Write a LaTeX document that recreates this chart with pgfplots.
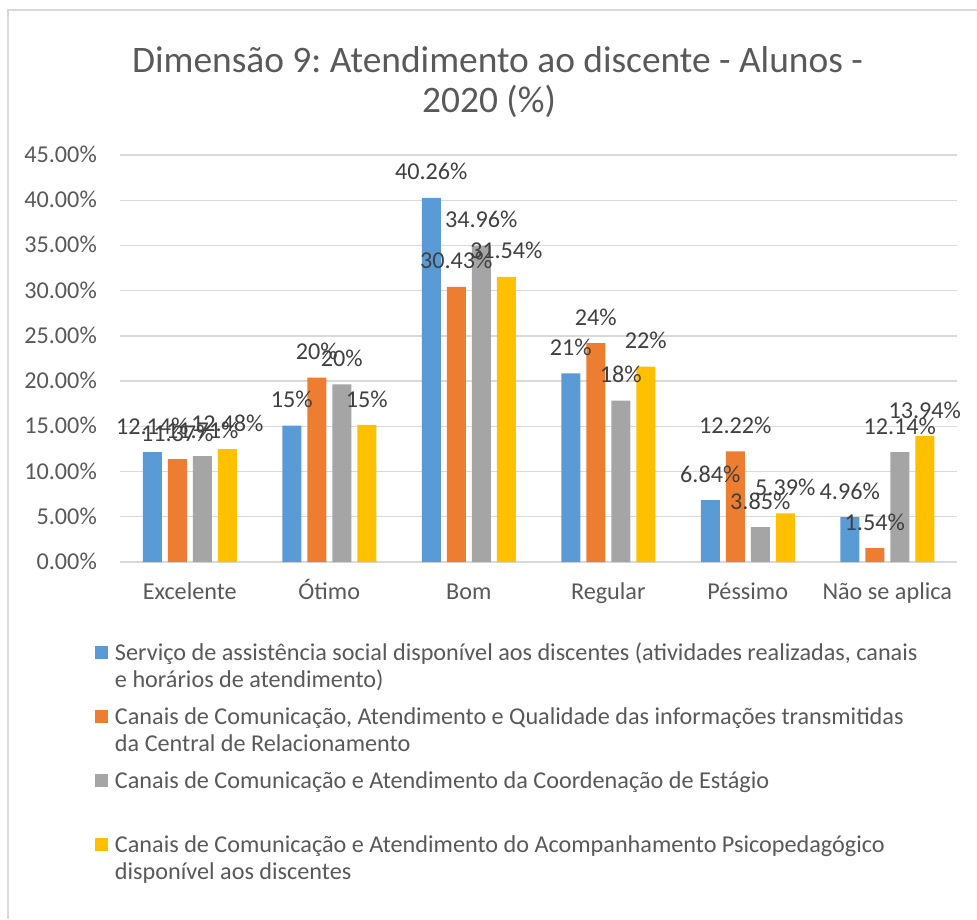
\documentclass[border=0pt]{standalone}
\usepackage{pgfplots}
\pgfplotsset{compat=1.18}
\usepackage{fontspec}
\setmainfont{Carlito}
\frenchspacing
\definecolor{cblue}{HTML}{5B9BD5}
\definecolor{corange}{HTML}{ED7D31}
\definecolor{cgray}{HTML}{A5A5A5}
\definecolor{cyellow}{HTML}{FFC000}
\definecolor{txt}{HTML}{595959}
\definecolor{lbl}{HTML}{404040}
\definecolor{gridc}{HTML}{D9D9D9}
\newcommand{\fs}{\fontsize{24.2}{27}\selectfont}
\newcommand{\lentry}[1]{\parbox[t]{860pt}{\raggedright\fontsize{24.2}{27}\selectfont\strut #1\strut}}
\pgfplotsset{sqlegend/.style={legend image code/.code={\fill[##1] (0pt,1.5pt) rectangle (13pt,14.5pt);}}}
\begin{document}
\begin{tikzpicture}[x=1pt,y=1pt]
\path[use as bounding box] (0,0) rectangle (977,-919);
\fill[white] (0,0) rectangle (977,-919);
\draw[gridc, line width=2pt] (7.5,-919) -- (7.5,-10) -- (977,-10);
\node[text=txt, font=\fontsize{37.4}{44}\selectfont, anchor=base, inner sep=0pt] at (497.5,-72) {Dimensão 9: Atendimento ao discente - Alunos -};
\node[text=txt, font=\fontsize{37.4}{44}\selectfont, anchor=base, inner sep=0pt] at (489,-112) {2020 (\%)};
\begin{axis}[
  at={(120pt,-562pt)}, anchor=south west,
  scale only axis, width=837pt, height=407pt,
  ybar=6pt, bar width=19pt,
  xmin=-0.5, xmax=5.5, ymin=0, ymax=45,
  clip=false,
  axis line style={draw=none},
  major tick length=0pt,
  ymajorgrids, major grid style={gridc, line width=1.3pt},
  xtick={0,1,2,3,4,5},
  xticklabels={Excelente,Ótimo,Bom,Regular,Péssimo,Não se aplica},
  ytick={0,5,10,15,20,25,30,35,40,45},
  yticklabels={0.00\%,5.00\%,10.00\%,15.00\%,20.00\%,25.00\%,30.00\%,35.00\%,40.00\%,45.00\%},
  xticklabel style={font=\fs, text=txt, anchor=base, inner sep=0pt, yshift=-37pt},
  yticklabel style={font=\fs, text=txt, anchor=base east, inner sep=0pt, xshift=-23pt, yshift=-7.5pt},
  nodes near coords,
  point meta=explicit symbolic,
  every node near coord/.append style={font=\fs, text=lbl, inner sep=0pt, yshift=17.5pt},
  legend cell align=left,
  legend style={at={(rel axis cs:0,0)}, anchor=north west, xshift=-25pt, yshift=-80pt,
    draw=none, fill=none, inner sep=0pt, outer sep=0pt, row sep=43.5pt, column sep=7pt,
    nodes={inner sep=0pt, text=txt}, cells={anchor=base west}},
]
\addplot[fill=cblue, draw=none, sqlegend] coordinates {
  (0,12.14) [12.14\%] (1,15.08) [15\%] (2,40.26) [40.26\%]
  (3,20.87) [21\%] (4,6.84) [6.84\%] (5,4.96) [4.96\%]};
\addlegendentry{\lentry{Serviço de assistência social disponível aos discentes (atividades realizadas, canais\\e horários de atendimento)}}
\addplot[fill=corange, draw=none, sqlegend] coordinates {
  (0,11.37) [11.37\%] (1,20.4) [20\%] (2,30.43) [30.43\%]
  (3,24.19) [24\%] (4,12.22) [12.22\%] (5,1.54) [1.54\%]};
\addlegendentry{\lentry{Canais de Comunicação, Atendimento e Qualidade das informações transmitidas\\da Central de Relacionamento}}
\addplot[fill=cgray, draw=none, sqlegend] coordinates {
  (0,11.71) [11.71\%] (1,19.65) [20\%] (2,34.96) [34.96\%]
  (3,17.84) [18\%] (4,3.85) [3.85\%] (5,12.14) [12.14\%]};
\addlegendentry{\lentry{Canais de Comunicação e Atendimento da Coordenação de Estágio}}
\addplot[fill=cyellow, draw=none, sqlegend] coordinates {
  (0,12.48) [12.48\%] (1,15.15) [15\%] (2,31.54) [31.54\%]
  (3,21.6) [22\%] (4,5.39) [5.39\%] (5,13.94) [13.94\%]};
\addlegendentry{\lentry{Canais de Comunicação e Atendimento do Acompanhamento Psicopedagógico\\disponível aos discentes}}
\end{axis}
\end{tikzpicture}
\end{document}
